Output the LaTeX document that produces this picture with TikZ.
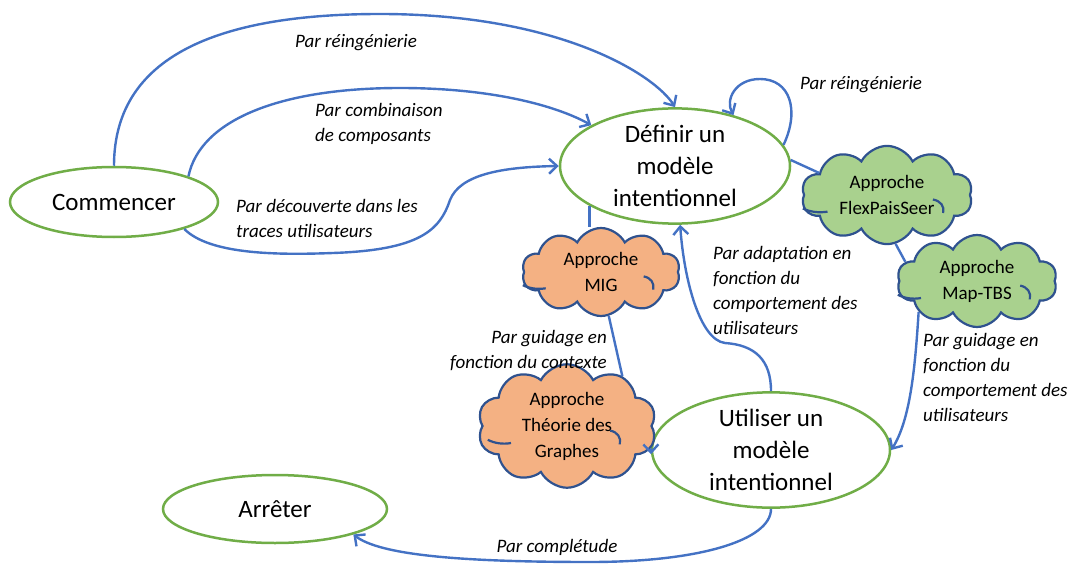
\documentclass[tikz,border=0pt]{standalone}
\usepackage{fontspec}
\setmainfont{Carlito}
\usetikzlibrary{shapes.geometric,shapes.symbols,arrows.meta}
\definecolor{ellgreen}{HTML}{70AD47}
\definecolor{linkblue}{HTML}{4472C4}
\definecolor{cloudline}{HTML}{2F528F}
\definecolor{orangefill}{HTML}{F4B183}
\definecolor{greenfill}{HTML}{A9D18E}
\tikzset{
  stepell/.style={ellipse, draw=ellgreen, line width=2.5pt, fill=white, inner sep=0pt, align=center,
    font=\fontsize{25}{32}\selectfont},
  cloudbox/.style={cloud, cloud puffs=10, cloud puff arc=125, aspect=1.75, draw=cloudline, line width=2.2pt,
    inner sep=0pt, align=center, font=\fontsize{19}{26}\selectfont},
  orangecloud/.style={cloudbox, fill=orangefill},
  greencloud/.style={cloudbox, fill=greenfill},
  inarc/.style={draw=cloudline, line width=2.2pt},
  link/.style={draw=linkblue, line width=2.4pt},
  arr/.style={link, -{Straight Barb[length=8pt,width=15pt,line width=2.4pt]}},
  lab/.style={font=\fontsize{19}{25}\selectfont\itshape, inner sep=0pt, align=left},
}
\newcommand\cloudinner[3]{%
  \begin{scope}[shift={(#1.center)}, x=#2pt, y=-#3pt]
    \draw[inarc] (-0.99,0.3) .. controls (-0.9,0.38) and (-0.8,0.4) .. (-0.7,0.37);
    \draw[inarc] (0.54,0.1) .. controls (0.63,0.13) and (0.68,0.25) .. (0.66,0.4);
  \end{scope}}
\begin{document}
\begin{tikzpicture}[x=1pt,y=-1pt]
\useasboundingbox (0,0) rectangle (1083,564);
% nodes
\node[stepell, minimum width=208pt, minimum height=70pt] (C) at (114,202) {Commencer};
\node[stepell, minimum width=230pt, minimum height=105pt] (D) at (675,166) {Définir un\\modèle\\intentionnel};
\node[stepell, minimum width=238pt, minimum height=105pt] (U) at (771,450) {Utiliser un\\modèle\\intentionnel};
\node[stepell, minimum width=224pt, minimum height=68pt] (A) at (275,509) {Arrêter};
\node[orangecloud, minimum width=158pt, minimum height=88pt] (MIG) at (601,272) {Approche\\MIG};
\node[orangecloud, minimum width=160pt, minimum height=92pt] (T) at (567,426) {Approche\\Théorie des\\Graphes};
\node[greencloud, minimum width=171pt, minimum height=90pt] (F) at (887,195) {Approche\\FlexPaisSeer};
\node[greencloud, minimum width=160pt, minimum height=92pt] (M) at (977,281) {Approche\\Map-TBS};
\cloudinner{MIG}{79}{44}
\cloudinner{T}{80}{46}
\cloudinner{F}{85}{45}
\cloudinner{M}{80}{46}
% connectors
\draw[arr] (C.north) .. controls (114,50) and (230,14) .. (380,14) .. controls (560,14) and (655,75) .. (D.north);
\draw[arr] (C.19) .. controls (200,120) and (280,88) .. (400,88) .. controls (490,88) and (555,105) .. (D.154);
\draw[arr] (C.-21) .. controls (210,255) and (280,255) .. (333,253) .. controls (420,250) and (440,230) .. (450,200) .. controls (460,175) and (500,167) .. (D.west);
\draw[arr] (D.11) .. controls (800,110) and (790,79) .. (760,79) .. controls (735,79) and (725,100) .. (D.41);
\draw[link] (D.3) -- (F.162);
\draw[link] (F.-80) -- (M.165);
\draw[arr] (M.208) .. controls (915,370) and (910,420) .. (U.east);
\draw[link] (D.205) -- (D.205 |- MIG.north);
\draw[link] (MIG.-80) -- (T.42);
\draw[arr] (T.-15) -- (U.182);
\draw[arr] (U.north) .. controls (771,360) and (755,345) .. (725,343) .. controls (700,340) and (684,280) .. (D.-85);
\draw[arr] (U.south) .. controls (771,540) and (700,562) .. (590,562) .. controls (460,562) and (380,555) .. (A.-18);
% labels
\node[lab, anchor=center] (l1) at (356,43) {Par réingénierie};
\node[lab, anchor=west] (l2) at (315,124) {Par combinaison\\de composants};
\node[lab, anchor=west] (l3) at (236,218) {Par découverte dans les\\traces utilisateurs};
\node[lab, anchor=west] (l4) at (800,85) {Par réingénierie};
\node[lab, anchor=west] (l5) at (713,290) {Par adaptation en\\fonction du\\comportement des\\utilisateurs};
\node[lab, anchor=east, align=right] (l6) at (607,351) {Par guidage en\\fonction du contexte};
\node[lab, anchor=west] (l7) at (923,377) {Par guidage en\\fonction du\\comportement des\\utilisateurs};
\node[lab, anchor=center] (l8) at (557,547) {Par complétude};
\end{tikzpicture}
\end{document}
